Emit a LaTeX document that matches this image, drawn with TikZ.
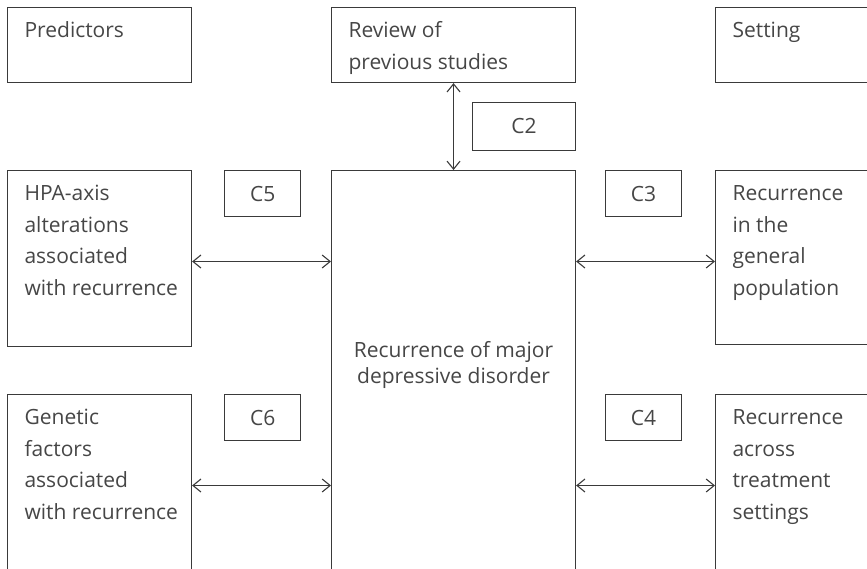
\documentclass[tikz,border=0pt]{standalone}
\usepackage{fontspec}
\setmainfont{Open Sans}
\usetikzlibrary{arrows.meta,positioning}

\definecolor{linegrey}{HTML}{3A3A3A}
\definecolor{textgrey}{HTML}{464646}

% text of a box: width, height, lines (first baseline 30pt down)
\newcommand{\cellbox}[3]{\parbox[c][#2][t]{#1}{\raggedright\leftskip=17pt\relax\rule{0pt}{30pt}#3}}

\begin{document}
\begin{tikzpicture}[
     x=1pt, y=1pt,
     % define styles
     box/.style={
         draw=linegrey,
         line width=1.1pt,
         anchor=north west,
         inner sep=0pt,
         text=textgrey,
         font=\fontsize{21}{31.5}\selectfont
     },
     tag/.style={
         draw=linegrey,
         line width=1.1pt,
         minimum width=76pt,
         minimum height=46pt,
         inner sep=0pt,
         text=textgrey,
         font=\fontsize{21}{24}\selectfont
     },
     link/.style={
         draw=linegrey,
         line width=1.1pt,
         {Straight Barb[length=8pt,width=13pt]}-{Straight Barb[length=8pt,width=13pt]}
     }
]
\useasboundingbox (0,0) rectangle (867,-568);
\clip (0,0) rectangle (867,-568);

% top row headings
\node[box] (pred) at (7,-7) {\cellbox{184pt}{75pt}{Predictors}};
\node[box] (review) at (331,-7) {\cellbox{244pt}{75pt}{Review of\\previous studies}};
\node[box] (setting) at (715,-7) {\cellbox{190pt}{75pt}{Setting}};

% central box
\node[box] (center) at (331,-170)
    {\parbox[c][430pt][t]{244pt}{\centering\fontsize{21}{26}\selectfont
     \rule{0pt}{187pt}Recurrence of major\\depressive disorder}};

% predictors (left) and settings (right)
\node[box] (hpa) at (7,-170) {\cellbox{184pt}{176pt}{HPA-axis\\alterations\\associated\\with recurrence}};
\node[box] (genetic) at (7,-394) {\cellbox{184pt}{200pt}{Genetic\\factors\\associated\\with recurrence}};
\node[box] (general) at (715,-170) {\cellbox{190pt}{174pt}{Recurrence\\in the\\general\\population}};
\node[box] (across) at (715,-394) {\cellbox{190pt}{200pt}{Recurrence\\across\\treatment\\settings}};

% chapter tags
\node[tag, minimum width=103pt, minimum height=48pt, above left=19pt and 0pt of center.north east] (c2) {C2};
\node[tag, below right=0pt and 32pt of hpa.north east] (c5) {C5};
\node[tag, below right=0pt and 32pt of genetic.north east] (c6) {C6};
\node[tag, below left=0pt and 33pt of general.north west] (c3) {C3};
\node[tag, below left=0pt and 33pt of across.north west] (c4) {C4};

% links to the central box
\draw[link] (review.south) -- (center.north);
\foreach \n/\a/\b in {hpa/north east/west, genetic/north east/west,
                      general/north west/east, across/north west/east}
    \draw[link] ([yshift=-91.5pt]\n.\a) -- ([yshift=-91.5pt]\n.\a -| center.\b);
\end{tikzpicture}
\end{document}
